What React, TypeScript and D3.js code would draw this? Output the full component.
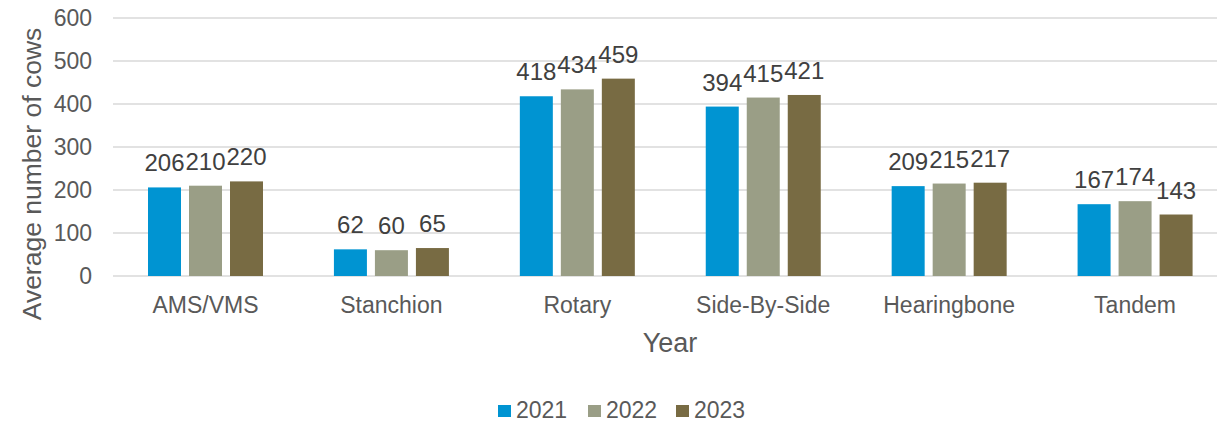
import React from "react";
import * as d3 from "d3";

const categories = ["AMS/VMS", "Stanchion", "Rotary", "Side-By-Side", "Hearingbone", "Tandem"];
const years = ["2021", "2022", "2023"];
const values2021 = [206, 62, 418, 394, 209, 167];
const values2022 = [210, 60, 434, 415, 215, 174];
const values2023 = [220, 65, 459, 421, 217, 143];
const yTicks = [0, 100, 200, 300, 400, 500, 600];
const colors = ["#0094D2", "#9A9E86", "#786B43"];

const W = 1217;
const H = 423;
const FONT = "'Liberation Sans', Arial, sans-serif";

export default function App() {
  const series = [values2021, values2022, values2023];
  const x0 = d3.scaleBand<string>().domain(categories).range([112.5, 1228]).padding(0);
  const x1 = d3
    .scaleBand<string>()
    .domain(years)
    .range([35.5, 150.5])
    .paddingInner(8 / 41)
    .paddingOuter(0);
  const y = d3.scaleLinear().domain([0, 600]).range([276, 18]);

  return (
    <div style={{ position: "absolute", left: 0, top: 0 }}>
      <svg width={W} height={H} style={{ display: "block", background: "#fff" }}>
        <rect x={0} y={0} width={W} height={H} fill="#fff" />
        {yTicks.map((t) => (
          <g key={t}>
            <line x1={113} x2={W} y1={y(t)} y2={y(t)} stroke="#d9d9d9" strokeWidth={1.5} />
            <text
              x={92}
              y={y(t)}
              dy="0.36em"
              textAnchor="end"
              fontFamily={FONT}
              fontSize={23}
              fill="#595959"
            >
              {t}
            </text>
          </g>
        ))}
        {categories.map((c, i) => (
          <g key={c} transform={`translate(${x0(c)},0)`}>
            {years.map((yr, j) => {
              const v = series[j][i];
              const bx = x1(yr)!;
              const bw = x1.bandwidth();
              return (
                <g key={yr}>
                  <rect x={bx} y={y(v)} width={bw} height={y(0) - y(v)} fill={colors[j]} />
                  <text
                    x={bx + bw / 2}
                    y={y(v) - 16}
                    textAnchor="middle"
                    fontFamily={FONT}
                    fontSize={24}
                    fill="#404040"
                  >
                    {v}
                  </text>
                </g>
              );
            })}
            <text
              x={x0.bandwidth() / 2}
              y={313}
              textAnchor="middle"
              fontFamily={FONT}
              fontSize={23}
              fill="#595959"
            >
              {c}
            </text>
          </g>
        ))}
        <text
          x={670}
          y={352}
          textAnchor="middle"
          fontFamily={FONT}
          fontSize={27}
          fill="#595959"
        >
          Year
        </text>
        <text
          transform={`translate(41,174) rotate(-90)`}
          textAnchor="middle"
          fontFamily={FONT}
          fontSize={26.5}
          fill="#595959"
        >
          Average number of cows
        </text>
        {(() => {
          const starts = [498, 588, 676];
          return years.map((yr, j) => (
            <g key={yr}>
              <rect x={starts[j]} y={405} width={13} height={12} fill={colors[j]} />
              <text
                x={starts[j] + 18}
                y={418}
                fontFamily={FONT}
                fontSize={23}
                fill="#595959"
              >
                {yr}
              </text>
            </g>
          ));
        })()}
      </svg>
    </div>
  );
}
